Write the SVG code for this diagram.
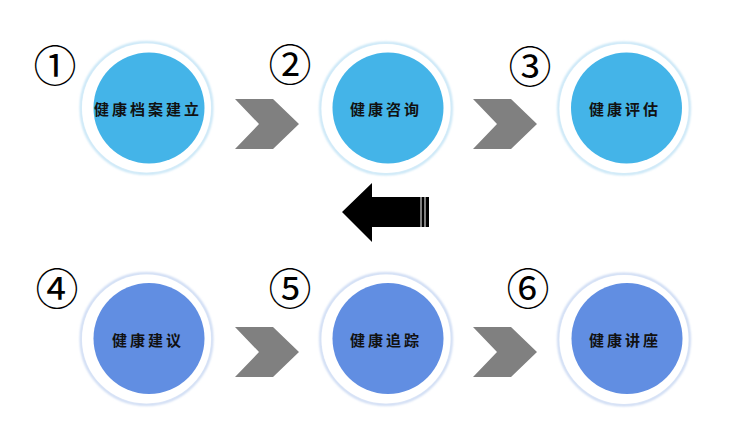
<svg xmlns="http://www.w3.org/2000/svg" width="740" height="441" viewBox="0 0 740 441">
<defs>
<filter id="glow" x="-20%" y="-20%" width="140%" height="140%">
<feGaussianBlur stdDeviation="1"/>
</filter>
<style>
.ring{fill:#ffffff;}
.glowTop{fill:none;stroke:#bfe2f5;stroke-width:2.5;filter:url(#glow);}
.glowBot{fill:none;stroke:#c6d6f2;stroke-width:2.5;filter:url(#glow);}
.top{fill:#44b4e8;}
.bot{fill:#618ee2;}
.lbl{font-family:"Noto Sans CJK SC","Noto Sans",sans-serif;font-weight:bold;font-size:15px;letter-spacing:3px;fill:#111111;text-anchor:middle;dominant-baseline:central;}
.num{font-family:"Noto Sans CJK SC","DejaVu Sans",sans-serif;font-size:43px;fill:#000000;text-anchor:middle;dominant-baseline:central;}
.chev{fill:#808080;}
</style>
</defs>
<rect width="740" height="441" fill="#ffffff"/>
<g id="connectors">
<polygon class="chev" points="235,99 273,99 299,124 273,149 235,149 259,124"/>
<polygon class="chev" points="473,99 511,99 537,124 511,149 473,149 497,124"/>
<polygon class="chev" points="235,327 273,327 299,352 273,377 235,377 259,352"/>
<polygon class="chev" points="473,327 511,327 537,352 511,377 473,377 497,352"/>
<g id="back-arrow" fill="#000000">
<polygon points="342,212 372,183 372,197 420.5,197 420.5,227 372,227 372,242"/>
<rect x="421.5" y="197" width="3" height="30"/>
<rect x="425.5" y="197" width="3.5" height="30"/>
</g>
</g>
<g id="node1">
<circle class="glowTop" cx="146.5" cy="108" r="65.5"/>
<circle class="ring" cx="146.5" cy="108" r="64.5"/>
<circle class="top" cx="149" cy="108" r="55.5"/>
<text class="lbl" x="148" y="108">健康档案建立</text>
<text class="num" x="55" y="63">①</text>
</g>
<g id="node2">
<circle class="glowTop" cx="386" cy="108.5" r="65.5"/>
<circle class="ring" cx="386" cy="108.5" r="64.5"/>
<circle class="top" cx="388" cy="108" r="55.5"/>
<text class="lbl" x="386" y="108">健康咨询</text>
<text class="num" x="290" y="62">②</text>
</g>
<g id="node3">
<circle class="glowTop" cx="624" cy="108.5" r="65.5"/>
<circle class="ring" cx="624" cy="108.5" r="64.5"/>
<circle class="top" cx="626.5" cy="108" r="55.5"/>
<text class="lbl" x="625" y="108">健康评估</text>
<text class="num" x="530" y="64">③</text>
</g>
<g id="node4">
<circle class="glowBot" cx="146.5" cy="339" r="65.5"/>
<circle class="ring" cx="146.5" cy="339" r="64.5"/>
<circle class="bot" cx="149" cy="338.5" r="55.5"/>
<text class="lbl" x="148" y="339">健康建议</text>
<text class="num" x="57" y="286">④</text>
</g>
<g id="node5">
<circle class="glowBot" cx="386" cy="339" r="65.5"/>
<circle class="ring" cx="386" cy="339" r="64.5"/>
<circle class="bot" cx="388" cy="338.5" r="55.5"/>
<text class="lbl" x="386" y="339">健康追踪</text>
<text class="num" x="290" y="286">⑤</text>
</g>
<g id="node6">
<circle class="glowBot" cx="624" cy="339.5" r="65.5"/>
<circle class="ring" cx="624" cy="339.5" r="64.5"/>
<circle class="bot" cx="627" cy="338.5" r="55.5"/>
<text class="lbl" x="625" y="339">健康讲座</text>
<text class="num" x="528" y="286">⑥</text>
</g>
</svg>
